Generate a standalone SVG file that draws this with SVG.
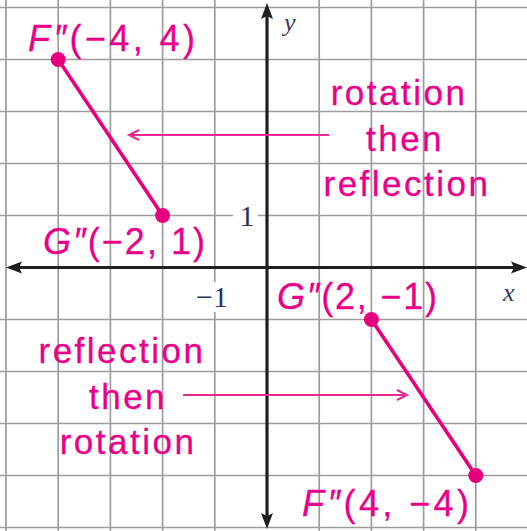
<svg xmlns="http://www.w3.org/2000/svg" width="527" height="531" viewBox="0 0 527 531">
<defs>
<style>
.grid{stroke:#9c9c9c;stroke-width:1.7;fill:none}
.axis{stroke:#1e1e1e;stroke-width:3.2;fill:none}
.head{fill:#1e1e1e}
.seg{stroke:#e6007e;stroke-width:3.6;fill:none}
.dot{fill:#e6007e}
.lbl{font-family:"Liberation Sans",Arial,sans-serif;font-size:36px;fill:#e8008a;stroke:#e8008a;stroke-width:0.3}
.it{font-style:italic}
.note{font-family:"Liberation Sans",Arial,sans-serif;font-size:35px;fill:#e8008a;text-anchor:middle;stroke:#e8008a;stroke-width:0.3}
.tick{font-family:"Liberation Serif","Times New Roman",serif;font-size:30px;fill:#2a3352}
.axl{font-family:"Liberation Serif","Times New Roman",serif;font-size:26px;font-style:italic;fill:#3a3a5a}
.arr{stroke:#ea2a94;stroke-width:2;fill:none}
</style>
</defs>
<rect x="0" y="0" width="527" height="531" fill="#ffffff"/>
<g id="grid">
<path class="grid" d="M6,0V531M58.2,0V531M110.4,0V531M162.6,0V531M214.8,0V531M319.2,0V531M371.4,0V531M423.6,0V531M475.8,0V531"/>
<path class="grid" d="M0,7.5H527M0,59.5H527M0,111.5H527M0,163.5H527M0,215.5H527M0,319.5H527M0,371.5H527M0,423.5H527M0,475.5H527M0,527.5H527"/>
</g>
<g id="tick-labels">
<rect x="233" y="200" width="25" height="30" fill="#ffffff"/>
<text class="tick" x="247" y="226" text-anchor="middle">1</text>
<rect x="196" y="282" width="32" height="30" fill="#ffffff"/>
<text class="tick" x="212" y="307" text-anchor="middle">−1</text>
</g>
<g id="axes">
<line class="axis" x1="14" y1="267.5" x2="518" y2="267.5"/>
<polygon class="head" points="6,267.5 22,261.5 19,267.5 22,273.5"/>
<polygon class="head" points="527,267.5 511,261.5 514,267.5 511,273.5"/>
<line class="axis" x1="267" y1="12" x2="267" y2="520"/>
<polygon class="head" points="267,3 261,19 267,16 273,19"/>
<polygon class="head" points="267,529 261,513 267,516 273,513"/>
<text class="axl" x="284" y="31">y</text>
<text class="axl" x="503" y="301">x</text>
</g>
<g id="connectors">
<line class="arr" x1="329" y1="135" x2="130" y2="135"/>
<path class="arr" d="M139,130 L129,135 L139,140"/>
<line class="arr" x1="183" y1="395" x2="406" y2="395"/>
<path class="arr" d="M397,390 L407,395 L397,400"/>
</g>
<g id="segment-upper">
<line class="seg" x1="58.2" y1="59.5" x2="162.6" y2="215.5"/>
<circle id="F2a" class="dot" cx="58.2" cy="59.5" r="7.5"/>
<circle id="G2a" class="dot" cx="162.6" cy="215.5" r="7.5"/>
</g>
<g id="segment-lower">
<line class="seg" x1="371.4" y1="319.5" x2="475.8" y2="475.5"/>
<circle id="G2b" class="dot" cx="371.4" cy="319.5" r="7.5"/>
<circle id="F2b" class="dot" cx="475.8" cy="475.5" r="7.5"/>
</g>
<g id="label-F-upper">
<text class="lbl" x="28" y="51" textLength="167" lengthAdjust="spacing"><tspan class="it">F″</tspan>(−4, 4)</text>
</g>
<g id="label-G-upper">
<text class="lbl" x="43" y="254" textLength="162" lengthAdjust="spacing"><tspan class="it">G″</tspan>(−2, 1)</text>
</g>
<g id="label-G-lower">
<text class="lbl" x="277" y="309" textLength="160" lengthAdjust="spacing"><tspan class="it">G″</tspan>(2, −1)</text>
</g>
<g id="label-F-lower">
<text class="lbl" x="302" y="516" textLength="167" lengthAdjust="spacing"><tspan class="it">F″</tspan>(4, −4)</text>
</g>
<g id="note-upper">
<text class="note" x="399" y="105" letter-spacing="2.5">rotation</text>
<text class="note" x="405" y="151" letter-spacing="2.5">then</text>
<text class="note" x="407" y="196" letter-spacing="2.5">reflection</text>
</g>
<g id="note-lower">
<text class="note" x="122" y="363" letter-spacing="2.5">reflection</text>
<text class="note" x="128" y="409" letter-spacing="2.5">then</text>
<text class="note" x="128" y="454" letter-spacing="2.5">rotation</text>
</g>
</svg>
